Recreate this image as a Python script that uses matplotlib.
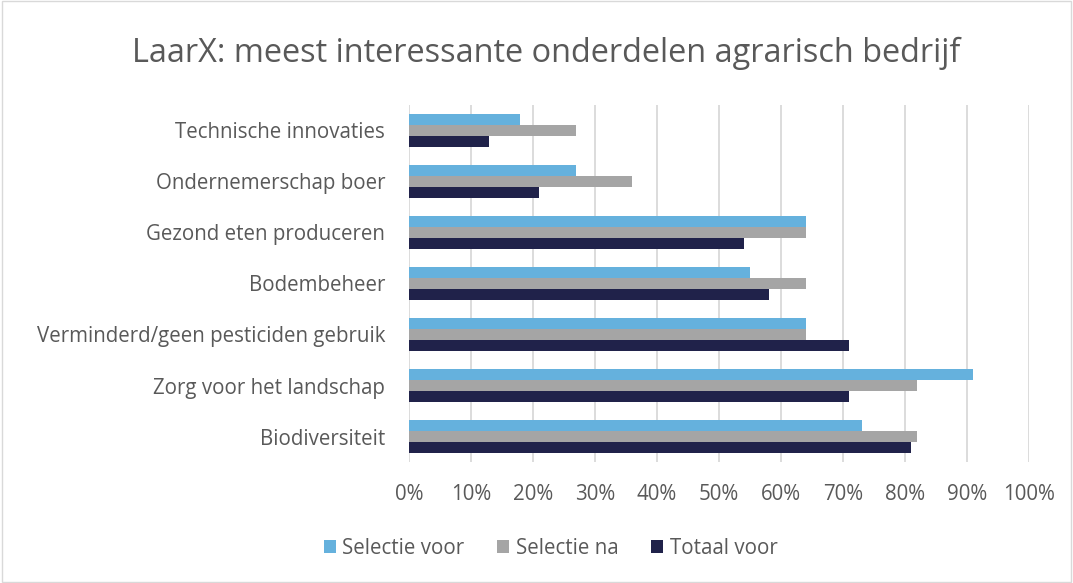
import numpy as np
import matplotlib.pyplot as plt
from matplotlib.patches import Rectangle

plt.rcParams['font.family'] = ['Open Sans', 'DejaVu Sans']

categories = ["Biodiversiteit", "Zorg voor het landschap", "Verminderd/geen pesticiden gebruik",
              "Bodembeheer", "Gezond eten produceren", "Ondernemerschap boer", "Technische innovaties"]
selectie_voor = [73, 91, 64, 55, 64, 27, 18]
selectie_na = [82, 82, 64, 64, 64, 36, 27]
totaal_voor = [81, 71, 71, 58, 54, 21, 13]

series = [("Selectie voor", selectie_voor, "#65B1DD"),
          ("Selectie na", selectie_na, "#A5A5A5"),
          ("Totaal voor", totaal_voor, "#20224A")]

fig = plt.figure(figsize=(10.73, 5.83), dpi=100)
ax = fig.add_axes([0.381, 0.2075, 0.578, 0.6125])

y = np.arange(len(categories))
h = 0.215
offsets = [h, 0, -h]
for (name, vals, col), off in zip(series, offsets):
    ax.barh(y + off, vals, height=h, color=col, label=name, zorder=3)

ax.set_xlim(0, 100)
ax.set_ylim(-0.5, len(categories) - 0.5)
ax.set_xticks(np.arange(0, 101, 10))
ax.set_xticklabels([f"{v}%" for v in range(0, 101, 10)])
ax.set_yticks(y)
ax.set_yticklabels(categories)
ax.tick_params(length=0, labelsize=14.8, colors="#595959")
ax.tick_params(axis='x', pad=16)
ax.tick_params(axis='y', pad=17)
ax.grid(axis='x', color="#D9D9D9", lw=1.3, zorder=0)
for s in ax.spines.values():
    s.set_visible(False)

fig.text(0.509, 0.908, "LaarX: meest interessante onderdelen agrarisch bedrijf",
         ha='center', va='center', fontsize=23.4, color="#595959")

handles, labels = ax.get_legend_handles_labels()
fig.legend(handles, labels, loc='center', bbox_to_anchor=(0.513, 0.06), ncol=3, frameon=False,
           fontsize=14.8, labelcolor="#595959", handlelength=0.6, handleheight=0.6,
           handletextpad=0.3, columnspacing=1.6)

fig.add_artist(Rectangle((0.002, 0.002), 0.996, 0.996, transform=fig.transFigure,
                         fill=False, edgecolor="#D9D9D9", lw=1))

fig.savefig("out.png", dpi=100)
